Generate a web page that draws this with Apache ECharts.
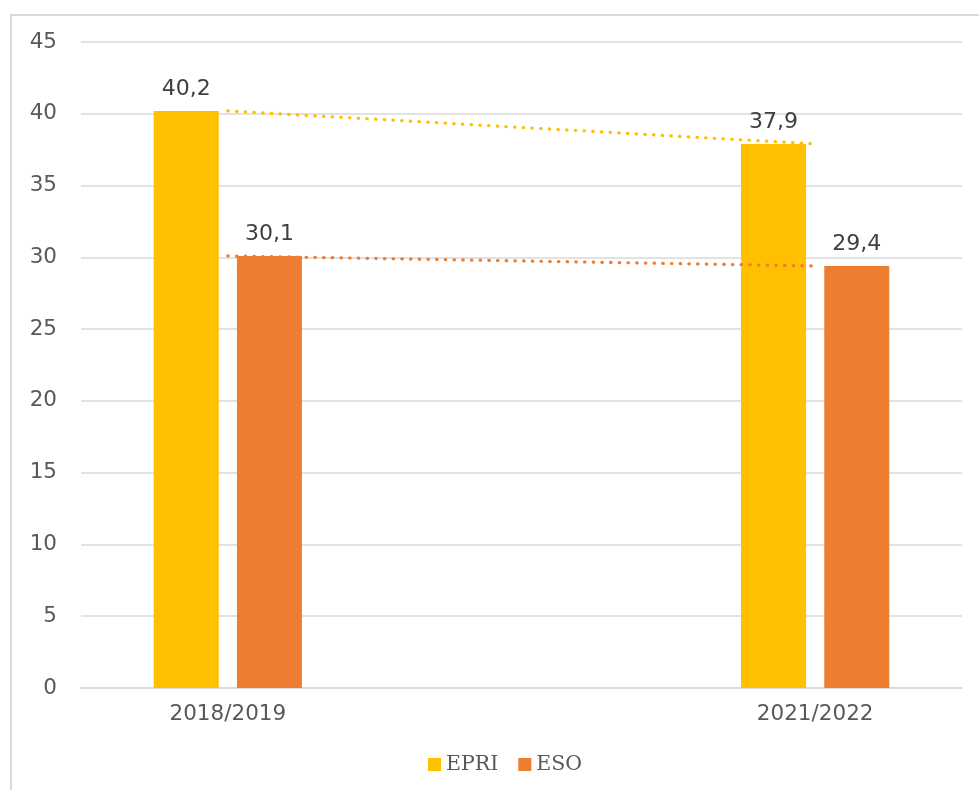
<!DOCTYPE html>
<html>
<head>
<meta charset="utf-8">
<script src="https://cdn.jsdelivr.net/npm/echarts@6/dist/echarts.min.js"></script>
<style>
  html, body { margin: 0; padding: 0; background: #fff; overflow: hidden; }
  #chart { width: 979px; height: 790px; }
</style>
</head>
<body>
<div id="chart"></div>
<script>
// categories (middle period has no data)
var categories = ['2018/2019', '', '2021/2022'];
var epriValues = [40.2, null, 37.9];
var esoValues = [30.1, null, 29.4];
var yTicks = { min: 0, max: 45, interval: 5 };

var chart = echarts.init(document.getElementById('chart'));

function commaLabel(p) {
    return String(p.value).replace('.', ',');
}

var dotStyle = function (color) {
    return { color: color, width: 3.2, type: [0.5, 8.2], cap: 'round' };
};

var option = {
    animation: false,
    textStyle: { fontFamily: 'DejaVu Sans' },
    graphic: [{
        type: 'rect',
        shape: { x: 11, y: 15, width: 1000, height: 800 },
        style: { fill: 'none', stroke: '#d9d9d9', lineWidth: 2 },
        z: -1
    }],
    legend: {
        data: ['EPRI', 'ESO'],
        bottom: 10,
        left: 423,
        icon: 'rect',
        itemWidth: 13,
        itemHeight: 13,
        itemGap: 20,
        textStyle: { fontFamily: 'DejaVu Serif', fontSize: 20.5, color: '#595959' }
    },
    grid: { left: 81, right: 17, top: 42, bottom: 102 },
    xAxis: {
        type: 'category',
        data: categories,
        axisLine: { lineStyle: { color: '#d9d9d9', width: 1.5 } },
        axisTick: { show: false },
        axisLabel: { fontSize: 21.5, color: '#595959', margin: 15 }
    },
    yAxis: {
        type: 'value',
        min: yTicks.min,
        max: yTicks.max,
        interval: yTicks.interval,
        axisLine: { show: false },
        axisTick: { show: false },
        splitLine: { lineStyle: { color: '#d9d9d9', width: 1.5 } },
        axisLabel: { fontSize: 21.5, color: '#595959', margin: 24 }
    },
    series: [
        {
            name: 'EPRI',
            type: 'bar',
            data: epriValues,
            barWidth: 65,
            barGap: '28%',
            itemStyle: { color: '#FFC000' },
            label: { show: true, position: 'top', distance: 11, fontSize: 22, color: '#404040', formatter: commaLabel }
        },
        {
            name: 'ESO',
            type: 'bar',
            data: esoValues,
            barWidth: 65,
            itemStyle: { color: '#ED7D31' },
            label: { show: true, position: 'top', distance: 11, fontSize: 22, color: '#404040', formatter: commaLabel }
        },
        {
            name: 'EPRI trend',
            type: 'line',
            data: epriValues,
            connectNulls: true,
            showSymbol: false,
            symbol: 'none',
            lineStyle: dotStyle('#FFC000'),
            z: 5
        },
        {
            name: 'ESO trend',
            type: 'line',
            data: esoValues,
            connectNulls: true,
            showSymbol: false,
            symbol: 'none',
            lineStyle: dotStyle('#ED7D31'),
            z: 5
        }
    ]
};
chart.setOption(option);

window.onresize = chart.resize;
</script>
</body>
</html>
